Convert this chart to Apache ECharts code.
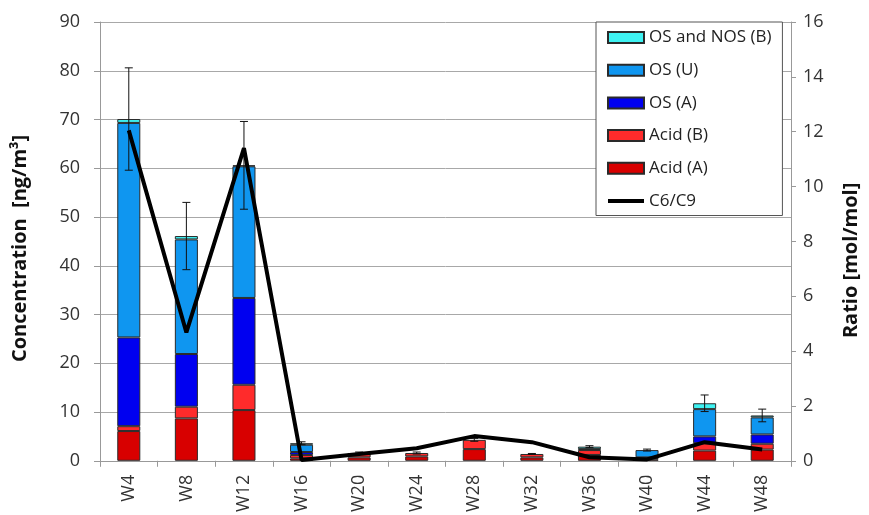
<!DOCTYPE html>
<html>
<head>
<meta charset="utf-8">
<script src="https://cdn.jsdelivr.net/npm/echarts@6/dist/echarts.min.js"></script>
<style>
html,body{margin:0;padding:0;background:#fff;}
#chart{width:869px;height:515px;}
</style>
</head>
<body>
<div id="chart"></div>
<script>
const categories = ['W4','W8','W12','W16','W20','W24','W28','W32','W36','W40','W44','W48'];
const acidA  = [6.1, 8.7, 10.4, 0.5, 0.7, 0.9, 2.4, 0.7, 1.2, 0.3, 2.1, 2.3];
const acidB  = [1.0, 2.4, 5.2, 0.7, 0.9, 0.7, 1.9, 0.7, 1.0, 0.3, 1.5, 1.2];
const osA    = [18.2, 10.8, 17.8, 0.6, 0, 0, 0, 0, 0, 0.1, 1.4, 1.9];
const osU    = [44.0, 23.5, 27.0, 1.5, 0, 0, 0, 0, 0.2, 1.5, 5.6, 3.5];
const osNosB = [0.8, 0.7, 0.2, 0.3, 0, 0, 0, 0, 0.5, 0, 1.2, 0.4];
const errors = [10.5, 6.9, 9.0, 0.3, 0.2, 0.2, 0.3, 0.1, 0.2, 0.2, 1.7, 1.3];
const ratio  = [12.05, 4.68, 11.4, 0.03, 0.25, 0.46, 0.9, 0.68, 0.13, 0.05, 0.68, 0.41];
const leftTicks = [0, 90, 10];
const rightTicks = [0, 16, 2];

const FONT = 'Open Sans';
const totals = categories.map((c, i) => acidA[i] + acidB[i] + osA[i] + osU[i] + osNosB[i]);
const nz = arr => arr.map(v => v === 0 ? '-' : v);

function barSeries(name, data, color) {
  return {
    name: name, type: 'bar', stack: 'total', yAxisIndex: 0,
    data: nz(data), barWidth: '40%', z: 2,
    itemStyle: { color: color, borderColor: '#2a2a2a', borderWidth: 1 },
    emphasis: { disabled: true }
  };
}

const chart = echarts.init(document.getElementById('chart'), null, { renderer: 'canvas' });
chart.setOption({
  animation: false,
  backgroundColor: '#fff',
  textStyle: { fontFamily: FONT },
  grid: { left: 100, right: 74, top: 22, bottom: 53 },
  legend: {
    data: [
      { name: 'OS and NOS (B)', icon: 'rect' },
      { name: 'OS (U)', icon: 'rect' },
      { name: 'OS (A)', icon: 'rect' },
      { name: 'Acid (B)', icon: 'rect' },
      { name: 'Acid (A)', icon: 'rect' },
      { name: 'C6/C9', icon: 'path://M0,0H36V4H0Z', itemStyle: { color: '#000', borderWidth: 0 } }
    ],
    symbolKeepAspect: true,
    orient: 'vertical', left: 596, top: 22,
    itemWidth: 36, itemHeight: 11, itemGap: 15.7,
    padding: [7, 11, 6, 11],
    backgroundColor: '#fff', borderColor: '#555', borderWidth: 1, borderRadius: 0,
    textStyle: { fontFamily: FONT, fontSize: 17, color: '#222', lineHeight: 16 }
  },
  xAxis: {
    type: 'category', data: categories,
    axisLine: { lineStyle: { color: '#999' } },
    axisTick: { show: true, length: 6, lineStyle: { color: '#999' } },
    axisLabel: { rotate: 90, fontSize: 18, color: '#333', fontFamily: FONT, margin: 14 }
  },
  yAxis: [
    {
      type: 'value', min: leftTicks[0], max: leftTicks[1], interval: leftTicks[2],
      name: 'Concentration  [ng/m³]', nameLocation: 'middle', nameGap: 70, nameRotate: 90,
      nameTextStyle: { fontSize: 20, fontWeight: 'bold', color: '#111', fontFamily: FONT, padding: [0, 14, 0, 0] },
      axisLine: { show: true, lineStyle: { color: '#999' } },
      axisTick: { show: true, length: 6, lineStyle: { color: '#999' } },
      axisLabel: { fontSize: 18, color: '#333', fontFamily: FONT, margin: 20 },
      splitLine: { show: true, lineStyle: { color: '#a8a8a8', width: 1 } }
    },
    {
      type: 'value', min: rightTicks[0], max: rightTicks[1], interval: rightTicks[2],
      name: 'Ratio [mol/mol]', nameLocation: 'middle', nameGap: 50, nameRotate: 90,
      nameTextStyle: { fontSize: 20, fontWeight: 'bold', color: '#111', fontFamily: FONT, padding: [0, 38, 0, 0] },
      position: 'right',
      axisLine: { show: true, lineStyle: { color: '#999' } },
      axisTick: { show: true, length: 5, lineStyle: { color: '#999' } },
      axisLabel: { fontSize: 18, color: '#333', fontFamily: FONT, margin: 12 },
      splitLine: { show: false }
    }
  ],
  series: [
    barSeries('Acid (A)', acidA, '#d80000'),
    barSeries('Acid (B)', acidB, '#ff2b2b'),
    barSeries('OS (A)', osA, '#0000f0'),
    barSeries('OS (U)', osU, '#0f96f0'),
    barSeries('OS and NOS (B)', osNosB, '#3ef2f2'),
    {
      name: 'errors', type: 'custom', yAxisIndex: 0, z: 3,
      data: categories.map((c, i) => [i, totals[i], errors[i]]),
      renderItem: function (params, api) {
        const x = api.value(0), t = api.value(1), e = api.value(2);
        const hi = api.coord([x, t + e]);
        const lo = api.coord([x, t - e]);
        const w = 4;
        const st = { stroke: '#111', lineWidth: 1 };
        return {
          type: 'group', children: [
            { type: 'line', shape: { x1: hi[0], y1: hi[1], x2: lo[0], y2: lo[1] }, style: st },
            { type: 'line', shape: { x1: hi[0] - w, y1: hi[1], x2: hi[0] + w, y2: hi[1] }, style: st },
            { type: 'line', shape: { x1: lo[0] - w, y1: lo[1], x2: lo[0] + w, y2: lo[1] }, style: st }
          ]
        };
      }
    },
    {
      name: 'C6/C9', type: 'line', yAxisIndex: 1, data: ratio, z: 5,
      symbol: 'none', showSymbol: false,
      lineStyle: { color: '#000', width: 4 },
      itemStyle: { color: '#000' },
      emphasis: { disabled: true }
    }
  ]
});
</script>
</body>
</html>
